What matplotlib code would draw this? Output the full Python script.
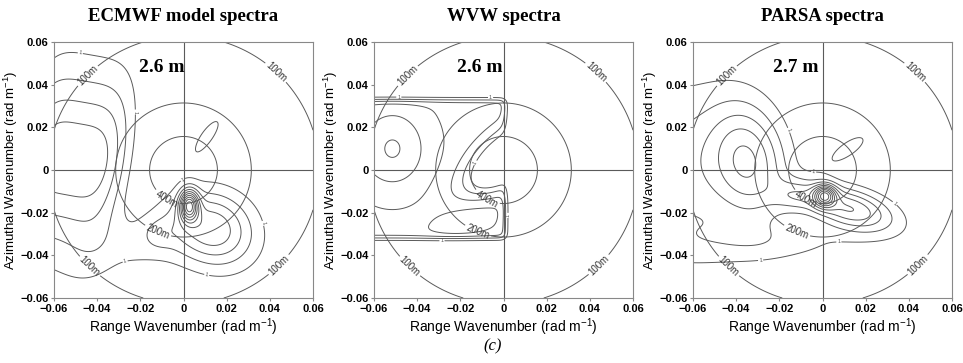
import numpy as np
import matplotlib.pyplot as plt

plt.rcParams['font.family'] = ['Liberation Sans', 'DejaVu Sans']
plt.rcParams['mathtext.fontset'] = 'custom'
plt.rcParams['mathtext.rm'] = 'Liberation Sans'
plt.rcParams['mathtext.it'] = 'Liberation Sans:italic'

# panel titles and significant wave heights
titles = ['ECMWF model spectra', 'WVW spectra', 'PARSA spectra']
hs_text = ['2.6 m', '2.6 m', '2.7 m']
hs_x = [-0.010, -0.011, -0.0125]

# axes ticks
tick_vals = [-0.06, -0.04, -0.02, 0, 0.02, 0.04, 0.06]
tick_labels = ['\u22120.06', '\u22120.04', '\u22120.02', '0', '0.02', '0.04', '0.06']

# wavelength circles (m)
circle_wl = [100, 200, 400]

# spectral peaks: centre, widths, rotation (deg), amplitude, shape powers
ec_cx = [-0.051, 0.0026, 0.014, 0.011, -0.018, -0.0115]
ec_cy = [0.005, -0.0166, -0.028, 0.016, -0.033, -0.030]
ec_sx = [0.020, 0.003, 0.014, 0.011, 0.022, 0.0045]
ec_sy = [0.028, 0.005, 0.012, 0.0035, 0.010, 0.0045]
ec_ang = [-10, 0, -30, 55, 20, 0]
ec_amp = [4.8, 8.0, 4.5, 1.3, 1.3, 0.9]
ec_px = [4, 2, 2, 2, 2, 2]
ec_py = [2, 2, 2, 2, 2, 2]
ec_levels = [1, 2, 3, 4, 5, 6, 7, 8, 9, 10, 11, 12]

wv_cx = [-0.0515, -0.012, 0.0]
wv_cy = [0.010, -0.018, 0.004]
wv_sx = [0.012, 0.016, 0.016]
wv_sy = [0.014, 0.007, 0.008]
wv_ang = [0, 35, 45]
wv_amp = [2.4, 1.6, -6.0]
wv_px = [2, 2, 2]
wv_py = [2, 2, 2]
wv_base = 3.7
wv_box = [0.001, -0.032, 0.033]   # right edge, bottom, top of the imaged area
wv_levels = [1, 2, 3, 4, 5, 6, 7]

pa_cx = [-0.034, -0.065, -0.012, 0.001, 0.012, 0.012, -0.025]
pa_cy = [0.004, 0.0, -0.012, -0.012, -0.018, 0.010, -0.034]
pa_sx = [0.012, 0.022, 0.008, 0.0035, 0.015, 0.011, 0.035]
pa_sy = [0.019, 0.028, 0.005, 0.0035, 0.0065, 0.004, 0.007]
pa_ang = [10, 0, 0, 0, -15, 35, 0]
pa_amp = [4.4, 2.4, 2.0, 7.0, 5.0, 1.3, 1.2]
pa_px = [2, 2, 2, 2, 2, 2, 2]
pa_py = [2, 2, 2, 2, 2, 2, 2]
pa_levels = [1, 2, 3, 4, 5, 6, 7, 8, 9, 10, 11, 12]

# label spots
ring_lab = [(-0.0446, 0.0444), (0.0423, 0.0452), (-0.0438, -0.0455), (0.0438, -0.044),
            (-0.012, -0.029), (-0.007, -0.012)]
ec_one = [(-0.0485, 0.0498), (-0.0177, 0.0272), (-0.026, -0.047),
          (0.0108, -0.049), (0.037, -0.025), (0.0015, -0.0075)]
wv_one = [(-0.0485, 0.0366), (-0.006, 0.0334), (-0.0123, 0.003), (0.0015, -0.0213), (-0.0285, -0.032)]
pa_one = [(-0.0123, 0.020), (0.034, -0.015), (0.0077, -0.042), (-0.029, -0.039), (-0.0046, -0.0056)]

k = np.linspace(-0.06, 0.06, 481)
KX, KY = np.meshgrid(k, k)


def spectrum(cx, cy, sx, sy, ang, amp, px, py):
    F = np.zeros_like(KX)
    for i in range(len(cx)):
        a = np.deg2rad(ang[i])
        dx, dy = KX - cx[i], KY - cy[i]
        u = dx * np.cos(a) + dy * np.sin(a)
        v = -dx * np.sin(a) + dy * np.cos(a)
        F += amp[i] * np.exp(-0.5 * (np.abs(u / sx[i]) ** px[i] + np.abs(v / sy[i]) ** py[i]))
    return F


F_ec = spectrum(ec_cx, ec_cy, ec_sx, ec_sy, ec_ang, ec_amp, ec_px, ec_py)
w = 0.001
box = (1 / (1 + np.exp(-(wv_box[0] - KX) / w)) * 1 / (1 + np.exp(-(KY - wv_box[1]) / w))
       * 1 / (1 + np.exp(-(wv_box[2] - KY) / w)))
F_wv = (wv_base + spectrum(wv_cx, wv_cy, wv_sx, wv_sy, wv_ang, wv_amp, wv_px, wv_py)) * box
F_pa = spectrum(pa_cx, pa_cy, pa_sx, pa_sy, pa_ang, pa_amp, pa_px, pa_py)

fields = [F_ec, F_wv, F_pa]
levels = [ec_levels, wv_levels, pa_levels]
ones = [ec_one, wv_one, pa_one]

KR = np.hypot(KX, KY)
ring_levels = [2 * np.pi / wl for wl in circle_wl][::-1]
ring_fmt = {2 * np.pi / wl: '%dm' % wl for wl in circle_wl}

fig = plt.figure(figsize=(9.63, 3.63), dpi=100)
lefts = [54, 374, 693]
lc = '#5a5a5a'

for i in range(3):
    ax = fig.add_axes([lefts[i] / 963, 65 / 363, 259 / 963, 256 / 363])
    ax.axhline(0, color=lc, lw=0.8)
    ax.axvline(0, color=lc, lw=0.8)
    cs = ax.contour(KX, KY, KR, levels=ring_levels, colors=lc, linewidths=0.7)
    ax.clabel(cs, fmt=ring_fmt, manual=ring_lab, fontsize=7, colors='#333333',
              inline=True, inline_spacing=2)
    cf = ax.contour(KX, KY, fields[i], levels=levels[i], colors=lc, linewidths=0.7)
    ax.clabel(cf, levels=[levels[i][0]], fmt={levels[i][0]: '1'}, manual=ones[i],
              fontsize=4, inline=True, inline_spacing=1)
    ax.set_xlim(-0.06, 0.06)
    ax.set_ylim(-0.06, 0.06)
    ax.set_xticks(tick_vals)
    ax.set_xticklabels(tick_labels, fontweight='bold', fontsize=8)
    ax.set_yticks(tick_vals)
    ax.set_yticklabels(tick_labels, fontweight='bold', fontsize=8)
    ax.tick_params(length=2, color='#888888', pad=2)
    for s in ax.spines.values():
        s.set_color('#888888')
        s.set_linewidth(0.8)
    ax.set_xlabel('Range Wavenumber (rad m$^{-1}$)', fontsize=10, labelpad=2)
    ax.set_ylabel('Azimuthal Wavenumber (rad m$^{-1}$)', fontsize=9.5, labelpad=0)
    ax.text(0.5, 1.1, titles[i], transform=ax.transAxes, ha='center', va='center',
            family='Liberation Serif', fontweight='bold', fontsize=13.5)
    ax.text(hs_x[i], 0.048, hs_text[i], ha='center', va='center',
            family='Liberation Serif', fontweight='bold', fontsize=14)

fig.text(493 / 963, 1 - 346 / 363, '(c)', ha='center', va='center',
         family='Liberation Serif', style='italic', fontsize=12)

fig.savefig('out.png', dpi=100)
